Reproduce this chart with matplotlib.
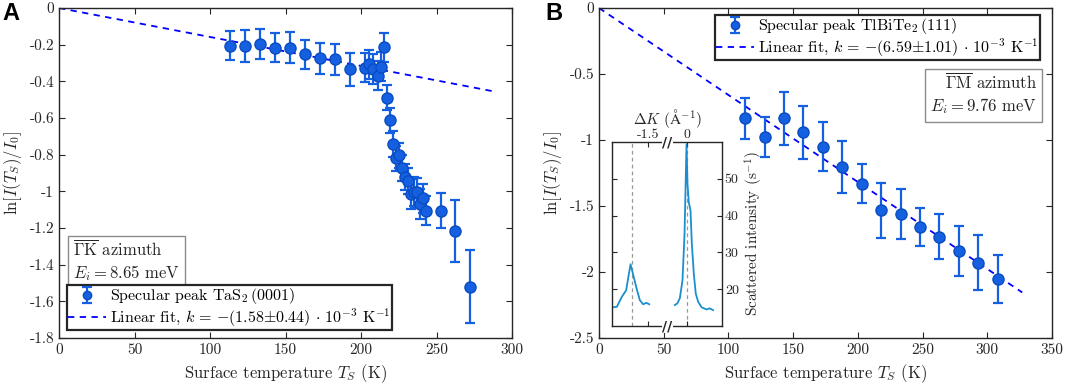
import numpy as np
import matplotlib
matplotlib.use("Agg")
import matplotlib.pyplot as plt

plt.rcParams['font.family'] = ['cmr10', 'DejaVu Serif']
plt.rcParams['mathtext.fontset'] = 'cm'
plt.rcParams['axes.unicode_minus'] = False

# Panel A: TaS2 (0001), Gamma-K azimuth
temp_a = [113, 123, 133, 143, 153, 163, 173, 183, 193,
          202.5, 205, 208, 211, 213, 215,
          217, 219, 221, 223, 225, 227, 229, 231, 233, 235, 237, 239, 241, 243,
          253, 262.5, 272]
lnI_a = [-0.206, -0.207, -0.196, -0.217, -0.217, -0.253, -0.274, -0.28, -0.333,
         -0.326, -0.307, -0.333, -0.369, -0.32, -0.214,
         -0.489, -0.613, -0.742, -0.82, -0.804, -0.871, -0.92, -0.942, -1.015,
         -1.002, -1.005, -1.069, -1.038, -1.106,
         -1.106, -1.215, -1.52]
err_a = [0.08, 0.085, 0.08, 0.08, 0.085, 0.08, 0.085, 0.085, 0.09,
         0.08, 0.08, 0.08, 0.08, 0.08, 0.08,
         0.07, 0.07, 0.07, 0.07, 0.07, 0.07, 0.07, 0.07, 0.08, 0.08, 0.08, 0.08, 0.08, 0.08,
         0.095, 0.17, 0.2]
slope_a = -1.58e-3
fit_range_a = [0, 290]

# Panel B: TlBiTe2 (111), Gamma-M azimuth
temp_b = [113, 128, 143, 158, 173, 188, 203, 218, 233, 248, 263, 278, 293, 308]
lnI_b = [-0.836, -0.977, -0.836, -0.942, -1.051, -1.205, -1.331, -1.533,
         -1.558, -1.659, -1.733, -1.841, -1.93, -2.053]
err_b = [0.155, 0.15, 0.2, 0.2, 0.185, 0.2, 0.15, 0.21, 0.19, 0.145,
         0.17, 0.19, 0.21, 0.18]
slope_b = -6.59e-3
fit_range_b = [0, 327]

# inset: scattered intensity vs Delta K (broken axis)
dk_left = [-2.16, -2.07, -1.98, -1.90, -1.86, -1.82, -1.77, -1.71, -1.65, -1.59, -1.53, -1.48]
int_left = [15.05, 15.2, 17.9, 19.7, 23.3, 26.8, 23.8, 20.2, 17.0, 15.9, 16.3, 15.9]
dk_right = [-0.213, -0.17, -0.122, -0.073, -0.036, 0.0, 0.018, 0.042, 0.073, 0.097,
            0.133, 0.169, 0.212, 0.273, 0.364, 0.424, 0.484]
int_right = [15.7, 16.1, 17.5, 22.4, 35.0, 59.4, 48.6, 43.6, 41.4, 32.4,
             24.2, 18.8, 16.6, 15.1, 14.5, 14.8, 14.3]
peak_lines = [-1.80, 0.0]
left_shift = 0.8   # left segment is moved right by this to close the gap

point_col = '#1560e0'
edge_col = '#0a4cc0'
fit_col = '#0000ff'
dark = '#262626'


def style_axes(ax):
    for sp in ax.spines.values():
        sp.set_color(dark)
        sp.set_linewidth(1.0)
    ax.tick_params(direction='in', top=True, right=True, length=4,
                   color=dark, labelcolor=dark, labelsize=11)


def panel(ax, T, y, e, slope, fit_range, label, fit_label):
    fit_T = np.array(fit_range, dtype=float)
    line, = ax.plot(fit_T, slope * fit_T, '--', color=fit_col, lw=1.3,
                    dashes=(3.5, 3), zorder=2, label=fit_label)
    eb = ax.errorbar(T, y, yerr=e, fmt='o', color=point_col, mec=edge_col,
                     ms=8, elinewidth=1.6, capsize=3.5, capthick=1.6,
                     zorder=3, label=label)
    style_axes(ax)
    ax.set_xlabel(r'Surface temperature $T_S$ (K)', fontsize=12, color=dark)
    ax.set_ylabel(r'$\ln[I(T_S)/I_0]$', fontsize=12, color=dark)
    return eb, line


def add_legend(ax, handles, loc, anchor):
    leg = ax.legend(handles=handles, loc=loc, bbox_to_anchor=anchor,
                    borderaxespad=0, fancybox=False, framealpha=1, edgecolor=dark,
                    fontsize=11.5, handlelength=2.4, handletextpad=0.25,
                    handleheight=0.5, markerscale=0.75,
                    borderpad=0.08, labelspacing=0.0)
    leg.get_frame().set_linewidth(1.6)
    return leg


box_style = dict(boxstyle='square,pad=0.32', fc='white', ec='#8c8c8c', lw=1.0)

fig = plt.figure(figsize=(10.65, 3.86), dpi=100)

# ---- panel A
axA = fig.add_axes([59 / 1065, 48 / 386, 453 / 1065, 330 / 386])
ebA, lineA = panel(axA, temp_a, lnI_a, err_a, slope_a, fit_range_a,
                   r'Specular peak TaS$_2\,$(0001)',
                   r'Linear fit, $k\,=\,{-}(1.58{\pm}0.44)\,\cdot\,10^{-3}$ K$^{-1}$')
axA.set_xlim(0, 300)
axA.set_ylim(-1.8, 0)
axA.set_xticks(np.arange(0, 301, 50))
yA = [-0.2 * i for i in range(10)]
axA.set_yticks(yA)
axA.set_yticklabels(['0'] + ['-%.1f' % (0.2 * i) for i in range(1, 5)] + ['-1']
                    + ['-%.1f' % (0.2 * i) for i in range(6, 10)])
add_legend(axA, [ebA, lineA], 'lower left', (0.017, 0.024))
axA.text(0.031, 0.30, r'$\overline{\Gamma\mathrm{K}}$ azimuth' + '\n' + r'$E_i = 8.65$ meV',
         transform=axA.transAxes, ha='left', va='top', fontsize=12, color=dark,
         linespacing=1.3, bbox=box_style)

# ---- panel B
axB = fig.add_axes([599 / 1065, 48 / 386, 453 / 1065, 330 / 386])
ebB, lineB = panel(axB, temp_b, lnI_b, err_b, slope_b, fit_range_b,
                   r'Specular peak TlBiTe$_2\,$(111)',
                   r'Linear fit, $k\,=\,{-}(6.59{\pm}1.01)\,\cdot\,10^{-3}$ K$^{-1}$')
axB.set_xlim(0, 350)
axB.set_ylim(-2.5, 0)
axB.set_xticks(np.arange(0, 351, 50))
axB.set_yticks([0, -0.5, -1, -1.5, -2, -2.5])
axB.set_yticklabels(['0', '-0.5', '-1', '-1.5', '-2', '-2.5'])
add_legend(axB, [ebB, lineB], 'upper right', (0.9735, 0.979))
axB.text(0.967, 0.806, r'$\overline{\Gamma\mathrm{M}}$ azimuth' + '\n' + r'$E_i = 9.76$ meV',
         transform=axB.transAxes, ha='right', va='top', fontsize=12, color=dark,
         linespacing=1.3, bbox=box_style)

# ---- inset
axI = fig.add_axes([612 / 1065, 60 / 386, 110 / 1065, 184 / 386])
axI.plot(np.array(dk_left) + left_shift, int_left, color='#1a8fd0', lw=1.3)
axI.plot(dk_right, int_right, color='#1a8fd0', lw=1.3)
axI.axvline(peak_lines[0] + left_shift, color='#999999', ls='--', lw=0.9, dashes=(3, 2.5), zorder=0)
axI.axvline(peak_lines[1], color='#999999', ls='--', lw=0.9, dashes=(3, 2.5), zorder=0)
axI.set_xlim(-1.358, 0.647)
axI.set_ylim(10, 60)
for sp in axI.spines.values():
    sp.set_color(dark)
    sp.set_linewidth(1.0)
axI.tick_params(direction='in', length=3.5, color=dark, labelcolor=dark, labelsize=10,
                top=True, labeltop=True, bottom=True, labelbottom=False,
                left=True, labelleft=False, right=True, labelright=True)
axI.tick_params(axis='x', pad=0.5)
axI.tick_params(axis='y', pad=2)
axI.set_xticks([-1.5 + left_shift, 0])
axI.set_xticklabels(['-1.5', '0'])
axI.set_yticks([20, 30, 40, 50])
axI.xaxis.set_label_position('top')
axI.yaxis.set_label_position('right')
axI.set_xlabel(r'$\Delta K\ (\mathrm{\AA}^{-1})$', fontsize=11, color=dark, labelpad=4)
axI.set_ylabel(r'Scattered intensity (s$^{-1}$)', fontsize=11, color=dark, labelpad=3)
brk = -0.345
for yy in (0, 1):
    axI.text(brk, yy, '//', transform=axI.get_xaxis_transform(), ha='center', va='center',
             fontsize=10, fontweight='bold', color=dark, family='DejaVu Sans',
             bbox=dict(boxstyle='square,pad=0.02', fc='white', ec='none'), clip_on=False)

fig.text(0.002, 0.995, 'A', fontsize=17, fontweight='bold', family='Liberation Sans',
         ha='left', va='top')
fig.text(0.512, 0.995, 'B', fontsize=17, fontweight='bold', family='Liberation Sans',
         ha='left', va='top')

fig.savefig('out.png', dpi=100)
